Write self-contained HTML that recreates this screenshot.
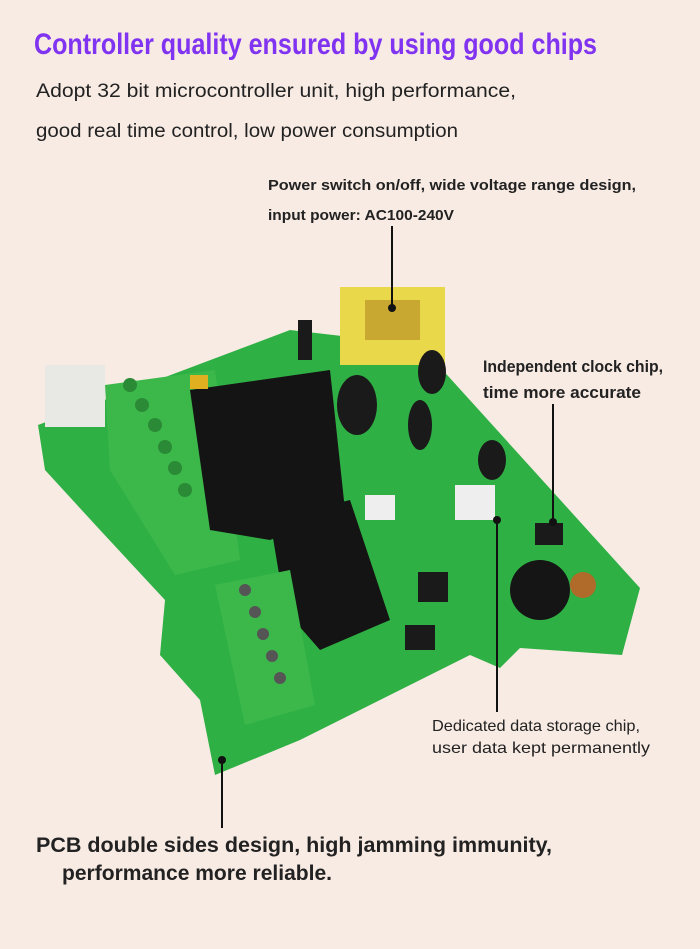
<!DOCTYPE html>
<html><head><meta charset="utf-8"><style>
html,body{margin:0;padding:0;background:#f8ebe4;}
svg{display:block}
text{font-family:"Liberation Sans",sans-serif;}
</style></head><body>
<svg width="700" height="949" viewBox="0 0 700 949">
<rect width="700" height="949" fill="#f8ebe4"/>
<text x="34" y="54" font-size="30" font-weight="bold" fill="#8033f0" textLength="563" lengthAdjust="spacingAndGlyphs">Controller quality ensured by using good chips</text>
<text x="36" y="97" font-size="19" fill="#222" textLength="480" lengthAdjust="spacingAndGlyphs">Adopt 32 bit microcontroller unit,    high performance,</text>
<text x="36" y="137" font-size="19" fill="#222" textLength="422" lengthAdjust="spacingAndGlyphs">good real time control, low power consumption</text>
<text x="268" y="190" font-size="15" font-weight="bold" fill="#222" textLength="368" lengthAdjust="spacingAndGlyphs">Power switch on/off, wide voltage range design,</text>
<text x="268" y="220" font-size="15" font-weight="bold" fill="#222" textLength="186" lengthAdjust="spacingAndGlyphs">input power: AC100-240V</text>
<!-- PCB -->
<polygon points="38,425 290,330 420,345 640,588 622,655 520,648 500,668 470,655 300,740 215,775 200,700 160,655 165,600 100,530 45,470" fill="#2fb045"/>
<rect x="45" y="365" width="60" height="62" fill="#e8e8e4"/>
<polygon points="105,385 215,370 240,560 175,575 110,470" fill="#3cb84a"/>
<g fill="#2a8a35"><circle cx="130" cy="385" r="7"/><circle cx="142" cy="405" r="7"/><circle cx="155" cy="425" r="7"/><circle cx="165" cy="447" r="7"/><circle cx="175" cy="468" r="7"/><circle cx="185" cy="490" r="7"/></g>
<polygon points="190,390 330,370 345,510 270,540 210,530" fill="#141414"/>
<polygon points="270,520 350,500 390,620 320,650 285,610" fill="#141414"/>
<polygon points="215,585 290,570 315,705 245,725" fill="#3cb84a"/>
<g fill="#555"><circle cx="245" cy="590" r="6"/><circle cx="255" cy="612" r="6"/><circle cx="263" cy="634" r="6"/><circle cx="272" cy="656" r="6"/><circle cx="280" cy="678" r="6"/></g>
<rect x="340" y="287" width="105" height="78" fill="#e9d84a"/>
<rect x="365" y="300" width="55" height="40" fill="#c9a832"/>
<rect x="190" y="375" width="18" height="14" fill="#e0b020"/>
<g fill="#1a1a1a"><ellipse cx="357" cy="405" rx="20" ry="30"/><ellipse cx="432" cy="372" rx="14" ry="22"/><ellipse cx="420" cy="425" rx="12" ry="25"/><ellipse cx="492" cy="460" rx="14" ry="20"/><rect x="298" y="320" width="14" height="40"/><rect x="418" y="572" width="30" height="30"/><rect x="535" y="523" width="28" height="22"/><rect x="405" y="625" width="30" height="25"/></g>
<circle cx="540" cy="590" r="30" fill="#151515"/>
<circle cx="583" cy="585" r="13" fill="#b06a2a"/>
<rect x="365" y="495" width="30" height="25" fill="#eee"/>
<rect x="455" y="485" width="40" height="35" fill="#eee"/>
<!-- leaders -->
<line x1="392" y1="226" x2="392" y2="308" stroke="#111" stroke-width="2"/>
<circle cx="392" cy="308" r="4" fill="#111"/>
<text x="483" y="372" font-size="17" font-weight="bold" fill="#222" textLength="180" lengthAdjust="spacingAndGlyphs">Independent clock chip,</text>
<text x="483" y="398" font-size="17" font-weight="bold" fill="#222" textLength="158" lengthAdjust="spacingAndGlyphs">time more accurate</text>
<line x1="553" y1="404" x2="553" y2="522" stroke="#111" stroke-width="2"/>
<circle cx="553" cy="522" r="4" fill="#111"/>
<line x1="497" y1="520" x2="497" y2="712" stroke="#111" stroke-width="2"/>
<circle cx="497" cy="520" r="4" fill="#111"/>
<text x="432" y="731" font-size="16" fill="#222" textLength="208" lengthAdjust="spacingAndGlyphs">Dedicated data storage chip,</text>
<text x="432" y="753" font-size="16" fill="#222" textLength="218" lengthAdjust="spacingAndGlyphs">user data kept permanently</text>
<line x1="222" y1="760" x2="222" y2="828" stroke="#111" stroke-width="2"/>
<circle cx="222" cy="760" r="4" fill="#111"/>
<text x="36" y="852" font-size="21" font-weight="bold" fill="#222" textLength="516" lengthAdjust="spacingAndGlyphs">PCB double sides design, high jamming immunity,</text>
<text x="62" y="880" font-size="21" font-weight="bold" fill="#222" textLength="270" lengthAdjust="spacingAndGlyphs">performance more reliable.</text>
</svg>
</body></html>
